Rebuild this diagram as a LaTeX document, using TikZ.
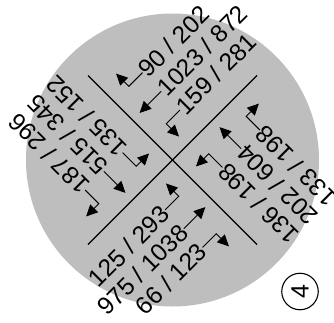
\documentclass[tikz,border=0pt]{standalone}
\usepackage{fontspec}
\setmainfont{Liberation Sans}
\usetikzlibrary{arrows.meta}
\definecolor{disc}{gray}{0.745}
\begin{document}
\begin{tikzpicture}[x=1pt,y=1pt,
  lab/.style={font=\fontsize{24.5}{24.5}\selectfont, inner sep=0pt, text height=17.5pt, text depth=0pt},
  arr/.style={-{Triangle[length=11.5pt,width=11pt]}, line width=0.9pt},
  road/.style={line width=1.2pt}]
\useasboundingbox (0,0) rectangle (334,322);
\coordinate (C) at (172.5,162);
\fill[disc] (C) circle (146.5);
\coordinate (nw) at (88,246.5);
\coordinate (se) at (257,77.5);
\coordinate (sw) at (88,77.5);
\coordinate (ne) at (257,246.5);
\draw[road] (nw) -- (se);
\draw[road] (sw) -- (ne);
% top and bottom quadrants
\begin{scope}[shift={(C)}, rotate=45]
  \node[lab,anchor=west,rotate=45] (t1) at (40.5,83) {90 / 202};
  \node[lab,anchor=west,rotate=45] (t2) at (40.5,56.5) {1023 / 872};
  \node[lab,anchor=west,rotate=45] (t3) at (40.5,30) {159 / 281};
  \coordinate (t1k) at (21.2,83);
  \coordinate (t1h) at (21.2,101);
  \coordinate (t2h) at (10,56.5);
  \coordinate (t3k) at (21.2,30);
  \coordinate (t3h) at (21.2,12);
  \draw[arr] (t1.west) -- (t1k) -- (t1h);
  \draw[arr] (t2.west) -- (t2h);
  \draw[arr] (t3.west) -- (t3k) -- (t3h);
  \node[lab,anchor=east,rotate=45] (b1) at (-40.5,-30) {125 / 293};
  \node[lab,anchor=east,rotate=45] (b2) at (-40.5,-56.5) {975 / 1038};
  \node[lab,anchor=east,rotate=45] (b3) at (-40.5,-83) {66 / 123};
  \coordinate (b1k) at (-21.2,-30);
  \coordinate (b1h) at (-21.2,-12);
  \coordinate (b2h) at (-10,-56.5);
  \coordinate (b3k) at (-21.2,-83);
  \coordinate (b3h) at (-21.2,-101);
  \draw[arr] (b1.east) -- (b1k) -- (b1h);
  \draw[arr] (b2.east) -- (b2h);
  \draw[arr] (b3.east) -- (b3k) -- (b3h);
\end{scope}
% left and right quadrants
\begin{scope}[shift={(C)}, rotate=135]
  \node[lab,anchor=west,rotate=135] (l1) at (40.5,83) {187 / 296};
  \node[lab,anchor=west,rotate=135] (l2) at (40.5,56.5) {515 / 345};
  \node[lab,anchor=west,rotate=135] (l3) at (40.5,30) {135 / 152};
  \coordinate (l1k) at (21.2,83);
  \coordinate (l1h) at (21.2,101);
  \coordinate (l2h) at (10,56.5);
  \coordinate (l3k) at (21.2,30);
  \coordinate (l3h) at (21.2,12);
  \draw[arr] (l1.west) -- (l1k) -- (l1h);
  \draw[arr] (l2.west) -- (l2h);
  \draw[arr] (l3.west) -- (l3k) -- (l3h);
  \node[lab,anchor=east,rotate=135] (r1) at (-40.5,-30) {136 / 198};
  \node[lab,anchor=east,rotate=135] (r2) at (-40.5,-56.5) {202 / 604};
  \node[lab,anchor=east,rotate=135] (r3) at (-40.5,-83) {133 / 198};
  \coordinate (r1k) at (-21.2,-30);
  \coordinate (r1h) at (-21.2,-12);
  \coordinate (r2h) at (-10,-56.5);
  \coordinate (r3k) at (-21.2,-83);
  \coordinate (r3h) at (-21.2,-101);
  \draw[arr] (r1.east) -- (r1k) -- (r1h);
  \draw[arr] (r2.east) -- (r2h);
  \draw[arr] (r3.east) -- (r3k) -- (r3h);
\end{scope}
\node[draw, circle, line width=1.1pt, minimum size=36.5pt, inner sep=0pt,
      font=\fontsize{25}{25}\selectfont] (num) at (300,30.5) {\rotatebox{90}{4}};
\end{tikzpicture}
\end{document}
